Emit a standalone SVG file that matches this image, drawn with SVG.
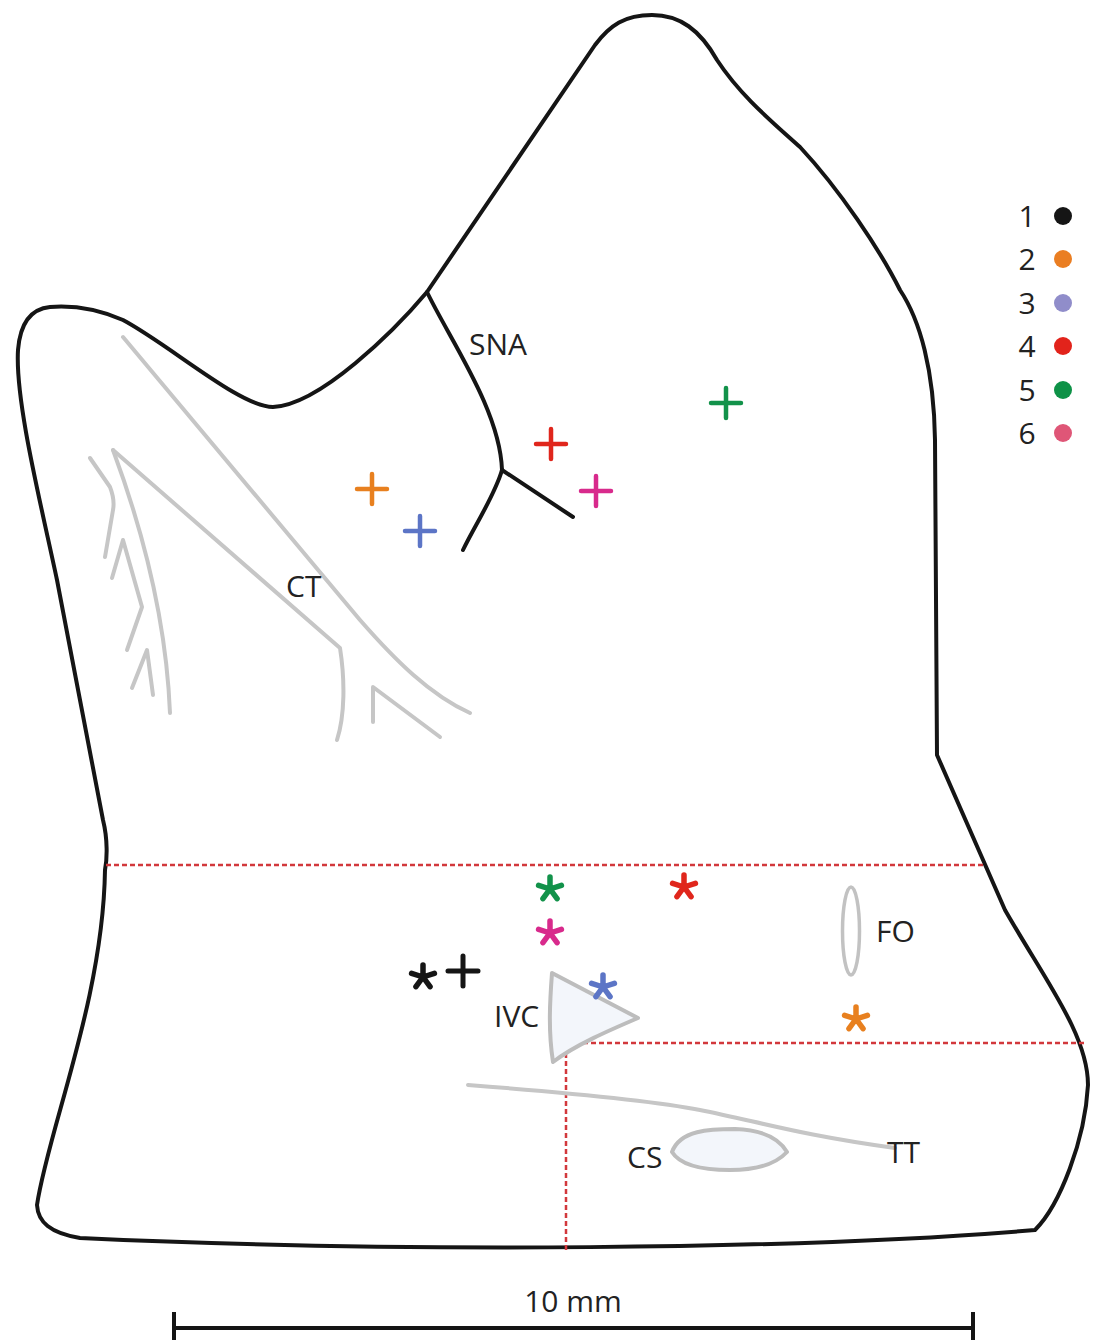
<svg xmlns="http://www.w3.org/2000/svg" xmlns:xlink="http://www.w3.org/1999/xlink" width="1100" height="1342" viewBox="0 0 1100 1342">
  <style>
    .outline { fill: #ffffff; stroke: #151515; stroke-width: 4; stroke-linejoin: round; stroke-linecap: round; }
    .sna { fill: none; stroke: #151515; stroke-width: 4; stroke-linecap: round; stroke-linejoin: round; }
    .ct { fill: none; stroke: #c6c6c6; stroke-width: 4; stroke-linecap: round; stroke-linejoin: round; }
    .struct { fill: #f3f6fb; stroke: #bdbdbd; stroke-width: 4; stroke-linejoin: round; }
    .fo { fill: none; stroke: #c2c2c2; stroke-width: 3.5; }
    .cut { fill: none; stroke: #d2383c; stroke-width: 2.5; stroke-dasharray: 5 3; }
    .lbl { font-family: "Open Sans", "Liberation Sans", sans-serif; font-size: 30px; fill: #222222; }
    .plus, .star { fill: none; stroke-linecap: round; }
    .plus { stroke-width: 4.5; }
    .star { stroke-width: 5.5; }
    .bar { fill: none; stroke: #151515; stroke-width: 4; }
  </style>
  <defs>
    <!-- ablation marker (+) -->
    <path id="plus" d="M-15,0H15M0,-15V15"/>
    <!-- earliest activation marker (*), five arms -->
    <path id="star" d="M0,0V-12M0,0L11.4,-3.7M0,0L7.05,9.7M0,0L-7.05,9.7M0,0L-11.4,-3.7"/>
  </defs>

  <rect width="1100" height="1342" fill="#ffffff"/>

  <!-- tissue preparation outline -->
  <g id="outline">
    <path class="outline" d="M427,292
      C395,330 320,405 273,407
      C240,407 170,345 123,320
      C100,310 75,305 50,307
      C30,309 20,325 18,350
      C15,400 40,500 57,580
      L103,820
      C108,840 107,860 105,870
      C103,1000 48,1130 37,1205
      C38,1222 50,1233 80,1238
      C400,1253 800,1250 1035,1230
      C1060,1205 1085,1140 1088,1085
      C1088,1035 1045,980 1005,910
      L937,755
      L935,440
      C934,370 920,320 900,290
      C880,250 840,190 800,147
      C770,120 740,95 717,60
      C700,30 680,15 652,15
      C625,15 610,25 595,45
      Z"/>
  </g>

  <!-- cut lines of the preparation -->
  <g id="cut-lines">
    <path class="cut" d="M106,865H986"/>
    <path class="cut" d="M566,1250V1043H1085"/>
  </g>

  <!-- connectors: sinus node artery and crista terminalis branches -->
  <g id="connectors">
    <g id="sna-artery">
      <path class="sna" d="M427,292 C450,340 500,410 502,470"/>
      <path class="sna" d="M502,470 L573,517"/>
      <path class="sna" d="M502,470 C495,495 475,525 463,550"/>
    </g>
    <g id="crista-terminalis">
      <path class="ct" d="M123,337 L360,620 C395,660 430,695 470,713"/>
      <path class="ct" d="M113,450 L340,648 C345,680 345,715 337,740"/>
      <path class="ct" d="M113,450 Q165,590 170,713"/>
      <path class="ct" d="M90,458 L110,487 Q115,500 113,510 L105,557"/>
      <path class="ct" d="M112,578 L123,540 L142,607 L127,650"/>
      <path class="ct" d="M132,688 L147,650 L153,695"/>
      <path class="ct" d="M373,722 L373,687 L440,737"/>
    </g>
    <g id="tendon-of-todaro">
      <path class="ct" d="M468,1085 C560,1092 650,1100 700,1110 C760,1122 800,1135 895,1148"/>
    </g>
  </g>

  <!-- anatomical landmarks -->
  <g id="ivc">
    <path class="struct" d="M552,973 L638,1018 C610,1030 575,1045 553,1062 C548,1030 550,1000 552,973 Z"/>
    <text class="lbl" x="494" y="1027">IVC</text>
  </g>
  <g id="cs">
    <path class="struct" d="M672,1152 C680,1130 710,1129 735,1129 C765,1130 780,1140 787,1152 C775,1165 755,1170 730,1170 C700,1170 680,1165 672,1152 Z"/>
    <text class="lbl" x="627" y="1168">CS</text>
  </g>
  <g id="fo">
    <ellipse class="fo" cx="851" cy="931" rx="8.5" ry="44"/>
    <text class="lbl" x="876" y="942">FO</text>
  </g>
  <g id="labels">
    <text class="lbl" x="469" y="355">SNA</text>
    <text class="lbl" x="286" y="597">CT</text>
    <text class="lbl" x="887" y="1163">TT</text>
  </g>

  <!-- pacing / ablation sites -->
  <g id="plus-markers" class="plus">
    <use xlink:href="#plus" href="#plus" x="726" y="403" stroke="#12924a"/>
    <use xlink:href="#plus" href="#plus" x="551" y="444" stroke="#e0261c"/>
    <use xlink:href="#plus" href="#plus" x="596" y="491" stroke="#d82a8c"/>
    <use xlink:href="#plus" href="#plus" x="372" y="489" stroke="#e8801f"/>
    <use xlink:href="#plus" href="#plus" x="420" y="531" stroke="#5c75c6"/>
    <use xlink:href="#plus" href="#plus" x="463" y="971" stroke="#151515" stroke-width="5"/>
  </g>

  <!-- earliest activation sites -->
  <g id="star-markers" class="star">
    <use xlink:href="#star" href="#star" x="550" y="889" stroke="#12924a"/>
    <use xlink:href="#star" href="#star" x="550" y="933" stroke="#d82a8c"/>
    <use xlink:href="#star" href="#star" x="684" y="887" stroke="#e0261c"/>
    <use xlink:href="#star" href="#star" x="603" y="987" stroke="#5c75c6"/>
    <use xlink:href="#star" href="#star" x="856" y="1019" stroke="#e8801f"/>
    <use xlink:href="#star" href="#star" x="423" y="977" stroke="#151515"/>
  </g>

  <!-- legend -->
  <g id="legend">
    <text class="lbl" x="1027" y="227" text-anchor="middle">1</text>
    <circle cx="1063" cy="216" r="9" fill="#151515"/>
    <text class="lbl" x="1027" y="270" text-anchor="middle">2</text>
    <circle cx="1063" cy="259" r="9" fill="#ea7e22"/>
    <text class="lbl" x="1027" y="314" text-anchor="middle">3</text>
    <circle cx="1063" cy="303" r="9" fill="#908dca"/>
    <text class="lbl" x="1027" y="357" text-anchor="middle">4</text>
    <circle cx="1063" cy="346" r="9" fill="#e2231b"/>
    <text class="lbl" x="1027" y="401" text-anchor="middle">5</text>
    <circle cx="1063" cy="390" r="9" fill="#0e9247"/>
    <text class="lbl" x="1027" y="444" text-anchor="middle">6</text>
    <circle cx="1063" cy="433" r="9" fill="#df5677"/>
  </g>

  <!-- scale bar -->
  <g id="scale-bar">
    <path class="bar" d="M174,1328H973M174,1312V1340M973,1312V1340"/>
    <text class="lbl" x="573" y="1312" text-anchor="middle">10 mm</text>
  </g>
</svg>
